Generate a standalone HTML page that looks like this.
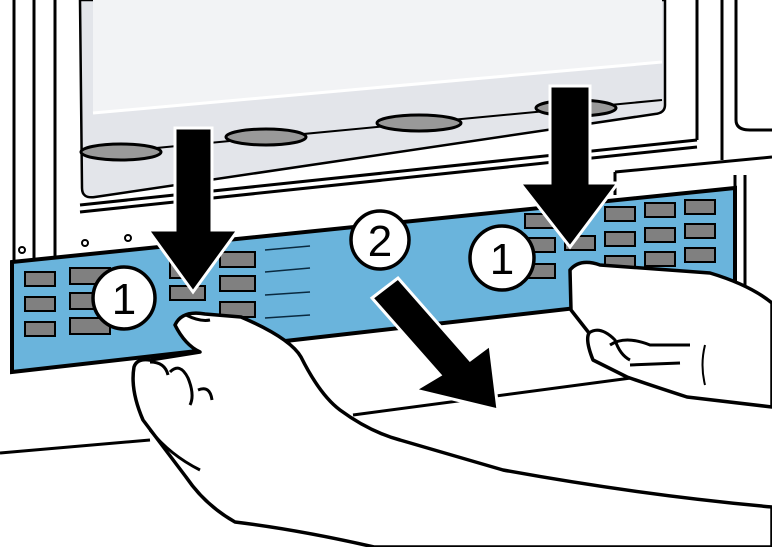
<!DOCTYPE html>
<html><head><style>body{margin:0;background:#fff}svg{display:block}</style></head><body>
<svg width="772" height="547" viewBox="0 0 772 547" xmlns="http://www.w3.org/2000/svg" font-family="Liberation Sans, sans-serif">
<rect width="772" height="547" fill="#fff"/>
<!-- cabinet lines -->
<g stroke="#000" stroke-width="3" fill="none">
<line x1="14" y1="0" x2="14" y2="262"/>
<line x1="34" y1="0" x2="34" y2="260"/>
<line x1="55" y1="0" x2="55" y2="257"/>
<line x1="697" y1="0" x2="697" y2="140"/>
<line x1="722" y1="0" x2="722" y2="160"/>
<path d="M736 0 V120 Q736 130 750 130 H772"/>
<line x1="80" y1="205" x2="697" y2="140"/>
<line x1="80" y1="212" x2="697" y2="147"/>
<line x1="615" y1="172" x2="772" y2="157"/>
<line x1="615" y1="172" x2="615" y2="195"/>
<line x1="735" y1="175" x2="735" y2="290"/>
<line x1="745" y1="175" x2="745" y2="290"/>
<line x1="0" y1="453" x2="150" y2="440"/>
<line x1="353" y1="415" x2="631" y2="378"/>
</g>
<!-- top grey panel -->
<path d="M80 0 H665 V105 Q665 113 655 114 L95 197 Q82 199 82 188 Z" fill="#e3e5ea" stroke="#000" stroke-width="2.5"/>
<path d="M93 0 H662 V62 L93 113 Z" fill="#f2f3f5"/>
<path d="M93 113 L662 62" stroke="#fff" stroke-width="3"/>
<line x1="82" y1="155" x2="662" y2="100" stroke="#000" stroke-width="2"/>
<g fill="#999" stroke="#000" stroke-width="3">
<ellipse cx="121" cy="152" rx="40" ry="8"/>
<ellipse cx="266" cy="137" rx="40" ry="8"/>
<ellipse cx="419" cy="123" rx="42" ry="8"/>
<ellipse cx="576" cy="108" rx="40" ry="8"/>
</g>
<g fill="none" stroke="#000" stroke-width="2"><circle cx="22" cy="250" r="3"/><circle cx="85" cy="243" r="3"/><circle cx="128" cy="238" r="3"/></g>
<!-- blue panel -->
<path d="M12 262 L735 188 V290 L12 372 Z" fill="#6ab4dc" stroke="#000" stroke-width="4"/>
<g fill="#808080" stroke="#000" stroke-width="2">
<rect x="25" y="272" width="30" height="14"/><rect x="70" y="268" width="40" height="16"/><rect x="170" y="262" width="30" height="16"/><rect x="220" y="252" width="35" height="15"/>
<rect x="25" y="297" width="30" height="14"/><rect x="70" y="293" width="40" height="16"/><rect x="170" y="286" width="35" height="14"/><rect x="220" y="276" width="35" height="15"/>
<rect x="25" y="322" width="30" height="14"/><rect x="70" y="318" width="40" height="16"/><rect x="220" y="302" width="35" height="15"/>
<rect x="525" y="214" width="30" height="14"/><rect x="605" y="207" width="30" height="14"/><rect x="645" y="203" width="30" height="14"/><rect x="685" y="200" width="30" height="14"/>
<rect x="525" y="238" width="30" height="14"/><rect x="565" y="236" width="30" height="14"/><rect x="605" y="232" width="30" height="14"/><rect x="645" y="228" width="30" height="14"/><rect x="685" y="224" width="30" height="14"/>
<rect x="525" y="264" width="30" height="14"/><rect x="605" y="256" width="30" height="14"/><rect x="645" y="252" width="30" height="14"/><rect x="685" y="248" width="30" height="14"/>
</g>
<g stroke="#0a2a40" stroke-width="1.5"><line x1="265" y1="250" x2="310" y2="246"/><line x1="265" y1="272" x2="310" y2="268"/><line x1="265" y1="295" x2="310" y2="292"/><line x1="265" y1="318" x2="310" y2="315"/></g>
<!-- hands -->
<g fill="#fff" stroke="#000" stroke-width="3.5" stroke-linejoin="round">
<path d="M175 325 Q182 310 205 314 L241 317 Q290 338 301 357 Q320 395 340 410 Q370 432 400 440 L503 470 Q640 495 772 507 V547 H374 Q300 530 235 522 Q205 505 186 477 L143 420 Q130 390 134 367 Q137 358 150 360 L200 352 Q185 345 175 325 Z"/>
<path d="M570 270 Q580 258 600 265 L710 273 Q750 285 772 303 V407 L687 397 Q650 385 627 377 L593 360 Q585 340 589 333 L571 310 Z"/>
</g>
<g fill="none" stroke="#000" stroke-width="3">
<path d="M150 362 Q165 362 168 375 M170 372 Q180 362 188 378 Q195 395 190 405 M198 390 Q210 385 212 400"/>
<path d="M186 315 Q200 322 210 320"/>
<path d="M150 430 Q170 455 200 470"/>
<path d="M589 333 Q600 325 615 340 Q620 355 630 360 M610 345 Q625 335 650 345 L690 345 M630 365 L680 363"/>
<path d="M705 345 Q700 365 705 385" stroke-width="2"/>
</g>
<!-- arrows -->
<g fill="#000" stroke="#fff" stroke-width="3" stroke-linejoin="miter">
<path d="M175 128 H212 V230 H238 L193 292 L148 230 H175 Z"/>
<path d="M550 86 H590 V183 H618 L570 247 L520 183 H550 Z"/>
<path d="M372 298 L398 278 L470 360 L490 345 L498 410 L415 390 L440 375 Z"/>
</g>
<!-- number circles -->
<g fill="#fff" stroke="#000" stroke-width="3.5">
<circle cx="124" cy="298" r="31"/><circle cx="380" cy="240" r="29"/><circle cx="502" cy="258" r="32"/>
</g>
<g font-size="44" text-anchor="middle" fill="#000">
<text x="124" y="314">1</text><text x="380" y="256">2</text><text x="502" y="274">1</text>
</g>
</svg>
</body></html>
